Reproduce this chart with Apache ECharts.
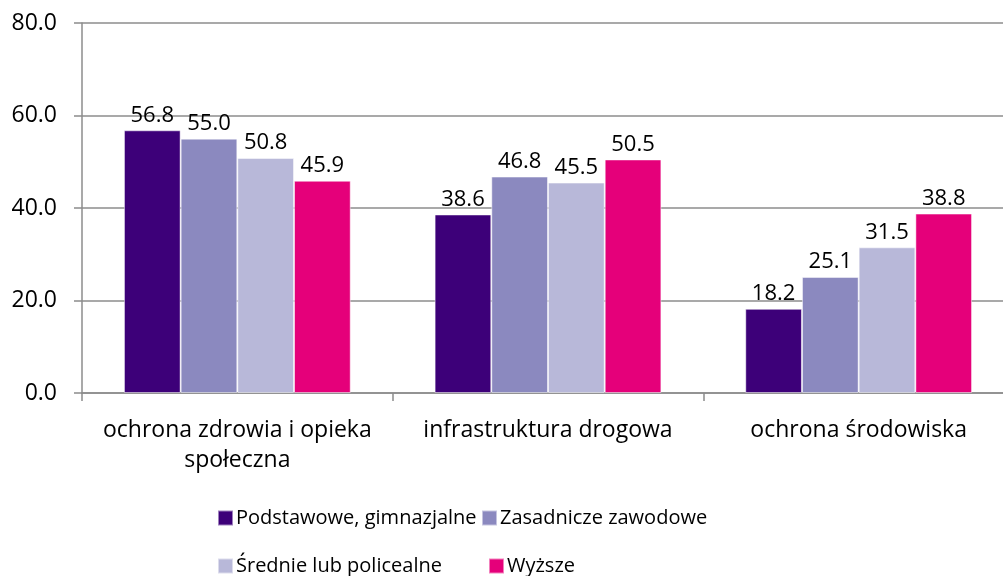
<!DOCTYPE html>
<html>
<head>
<meta charset="utf-8">
<script src="https://cdn.jsdelivr.net/npm/echarts@6/dist/echarts.min.js"></script>
<style>
  html, body { margin: 0; padding: 0; background: #fff; }
  #chart { width: 1003px; height: 576px; }
</style>
</head>
<body>
<div id="chart"></div>
<script>
const categories = ['ochrona zdrowia i opieka\nspołeczna', 'infrastruktura drogowa', 'ochrona środowiska']
const seriesNames = ['Podstawowe, gimnazjalne', 'Zasadnicze zawodowe', 'Średnie lub policealne', 'Wyższe']
const podstawowe = [56.8, 38.6, 18.2]
const zasadnicze = [55.0, 46.8, 25.1]
const srednie = [50.8, 45.5, 31.5]
const wyzsze = [45.9, 50.5, 38.8]
const colors = ['#3D0079', '#8B89BF', '#B8B8D9', '#E5007A']

const font = 'Open Sans'
const myChart = echarts.init(document.getElementById('chart'))

const values = [podstawowe, zasadnicze, srednie, wyzsze]
const series = values.map((data, i) => ({
  name: seriesNames[i],
  type: 'bar',
  data: data,
  barGap: '0%',
  barCategoryGap: '27%',
  itemStyle: {
    color: colors[i],
    borderColor: 'rgba(255,255,255,0.5)',
    borderWidth: 1
  },
  label: {
    show: true,
    position: 'top',
    distance: 4,
    color: '#000',
    fontFamily: font,
    fontSize: 22,
    formatter: (p) => p.value.toFixed(1)
  }
}))

const legendItem = (name, left, top) => ({
  data: [name],
  left: left,
  top: top,
  itemWidth: 15,
  itemHeight: 15,
  itemGap: 0,
  icon: 'rect',
  textStyle: { fontFamily: font, fontSize: 20, color: '#000', padding: [0, 0, 0, -2] },
  selectedMode: false
})

const option = {
  animation: false,
  color: colors,
  grid: {
    left: 82,
    right: -11,
    top: 23,
    bottom: 183,
    outerBoundsMode: 'none'
  },
  legend: [
    legendItem(seriesNames[0], 212, 503),
    legendItem(seriesNames[1], 476, 503),
    legendItem(seriesNames[2], 212, 551),
    legendItem(seriesNames[3], 483, 551)
  ],
  xAxis: {
    type: 'category',
    data: categories,
    axisLine: { lineStyle: { color: '#8c8c8c', width: 1.5 } },
    axisTick: { show: true, interval: 0, length: 8, lineStyle: { color: '#8c8c8c', width: 1.5 } },
    axisLabel: {
      interval: 0,
      hideOverlap: false,
      color: '#000',
      fontFamily: font,
      fontSize: 23,
      lineHeight: 30,
      margin: 22
    }
  },
  yAxis: {
    type: 'value',
    min: 0,
    max: 80,
    interval: 20,
    axisLine: { show: true, lineStyle: { color: '#8c8c8c', width: 1.5 } },
    axisTick: { show: true, length: 8, lineStyle: { color: '#8c8c8c', width: 1.5 } },
    splitLine: { lineStyle: { color: '#8c8c8c', width: 1.5 } },
    axisLabel: {
      color: '#000',
      fontFamily: font,
      fontSize: 23,
      margin: 25,
      formatter: (v) => v.toFixed(1)
    }
  },
  series: series
}
myChart.setOption(option)
</script>
</body>
</html>
